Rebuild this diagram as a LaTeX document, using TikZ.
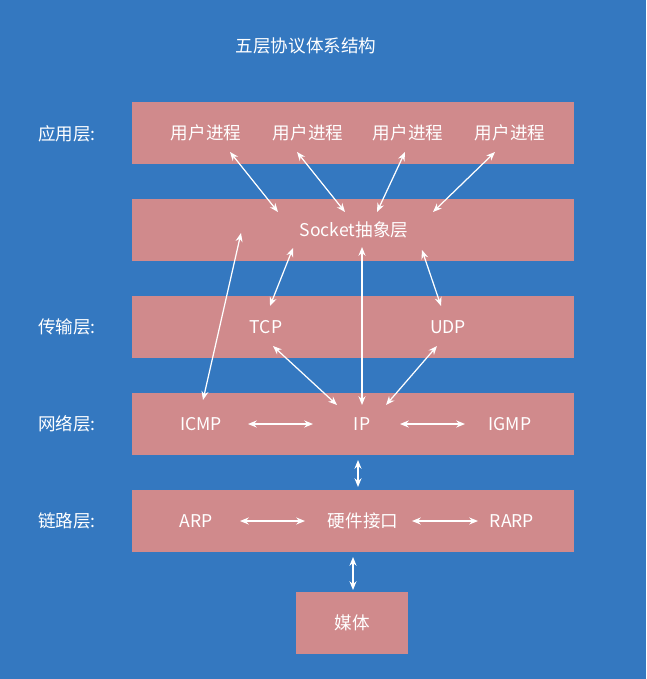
\documentclass[tikz,border=0pt]{standalone}
\usepackage{fontspec}
\setmainfont{Noto Sans CJK SC}
\definecolor{bgblue}{HTML}{3478C0}
\definecolor{boxpink}{HTML}{D08A8C}
\tikzset{
  layerbox/.style={fill=boxpink,draw=none},
  txt/.style={text=white,font=\fontsize{10}{12}\selectfont,inner sep=1pt},
  link/.style={white,line width=0.7pt,{Stealth[length=5pt,width=4pt]}-{Stealth[length=5pt,width=4pt]}}
}
\usetikzlibrary{arrows.meta}
\begin{document}
\begin{tikzpicture}[x=0.02cm,y=-0.02cm]
    % Fondo
    \fill[bgblue] (0,0) rectangle (646,679);
    \useasboundingbox (0,0) rectangle (646,679);
    % Capas
    \foreach \top/\nm in {102/app,199/sock,296/trans,393/net,490/link} {
      \fill[layerbox] (132,\top) rectangle (574,\top+62);
    }
    \fill[layerbox] (296,592) rectangle (408,654);
    % Titulo
    \node[txt] (title) at (306,46) {五层协议体系结构};
    % Etiquetas
    \node[txt] (lapp) at (67,134) {应用层:};
    \node[txt] (ltrans) at (67,327) {传输层:};
    \node[txt] (lnet) at (67,424) {网络层:};
    \node[txt] (llink) at (67,521) {链路层:};
    % Textos
    \node[txt] (up1) at (206,133) {用户进程};
    \node[txt] (up2) at (308,133) {用户进程};
    \node[txt] (up3) at (408,133) {用户进程};
    \node[txt] (up4) at (510,133) {用户进程};
    \node[txt] (socket) at (354,230) {Socket抽象层};
    \node[txt] (tcp) at (266,327) {TCP};
    \node[txt] (udp) at (448,327) {UDP};
    \node[txt] (icmp) at (201,424) {ICMP};
    \node[txt] (ip) at (362,424) {IP};
    \node[txt] (igmp) at (510,424) {IGMP};
    \node[txt] (arp) at (196,521) {ARP};
    \node[txt] (hw) at (363,521) {硬件接口};
    \node[txt] (rarp) at (512,521) {RARP};
    \node[txt] (media) at (352,623) {媒体};
    % Flechas
    \draw[link] (230,152) -- (278,212);
    \draw[link] (297,152) -- (345,212);
    \draw[link] (405,152) -- (377,212);
    \draw[link] (495,152) -- (433,212);
    \draw[link] (203,400) -- (241,233);
    \draw[link] (293,248) -- (270,306);
    \draw[link] (362,405) -- (362,247);
    \draw[link] (422,250) -- (441,306);
    \draw[link] (273,346) -- (337,405);
    \draw[link] (437,346) -- (386,405);
    \draw[link] (248,424) -- (313,424);
    \draw[link] (400,424) -- (465,424);
    \draw[link] (358,460) -- (358,487);
    \draw[link] (240,521) -- (305,521);
    \draw[link] (412,521) -- (478,521);
    \draw[link] (353,557) -- (353,590);
\end{tikzpicture}
\end{document}
